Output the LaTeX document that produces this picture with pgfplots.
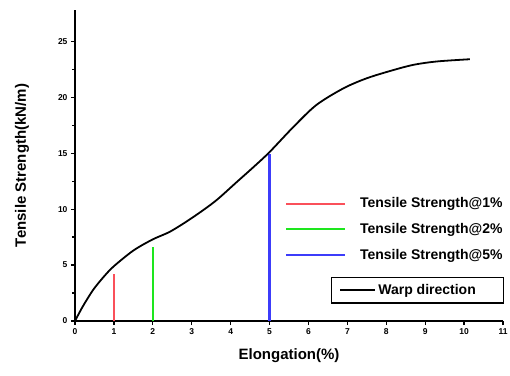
\documentclass[border=0pt]{standalone}
\usepackage{pgfplots}
\pgfplotsset{compat=1.18}
\usepackage{fontspec}
\setmainfont{Liberation Sans}
\definecolor{cred}{RGB}{250,80,90}
\definecolor{cgreen}{RGB}{30,230,30}
\definecolor{cblue}{RGB}{60,60,250}
\begin{document}
\begin{tikzpicture}
\useasboundingbox (-75pt,-54pt) rectangle (435pt,321pt);
\begin{axis}[
  at={(0pt,0pt)}, anchor=south west,
  scale only axis, width=428pt, height=311pt,
  xmin=0, xmax=11, ymin=0, ymax=27.8,
  axis x line=bottom, axis y line=left,
  axis line style={line width=1.6pt, -},
  xtick={0,...,11}, ytick={0,5,...,25}, minor ytick={2.5,7.5,...,22.5},
  tick align=outside, major tick length=4pt, minor tick length=2.5pt,
  tick style={line width=1.2pt, black},
  every tick label/.append style={font=\bfseries\fontsize{8.5}{10}\selectfont},
  /pgf/number format/assume math mode=true,
  xlabel={Elongation(\%)}, ylabel={Tensile Strength(kN/m)},
  label style={font=\bfseries\fontsize{15}{17}\selectfont},
  xlabel style={at={(axis description cs:0.5,-0.11)}, anchor=center},
  ylabel style={at={(axis description cs:-0.124,0.5)}, anchor=center},
  legend style={draw=none, fill=none, at={(0.49,0.295)}, anchor=west,
    font=\bfseries\fontsize{14}{16}\selectfont, row sep=10pt, inner sep=0pt,
    cells={anchor=west}},
  legend image code/.code={\draw[#1] (0pt,0pt) -- (59pt,0pt); \path[draw=none] (0pt,0pt) -- (72pt,0pt);},
]
\addplot[cred, line width=2.2pt] coordinates {(1,0) (1,4.2)};
\addlegendentry{Tensile Strength@1\%}
\addplot[cgreen, line width=2.2pt] coordinates {(2,0) (2,6.6)};
\addlegendentry{Tensile Strength@2\%}
\addplot[cblue, line width=2.2pt] coordinates {(5,0) (5,14.9)};
\addlegendentry{Tensile Strength@5\%}
\end{axis}
\begin{axis}[
  at={(0pt,0pt)}, anchor=south west,
  scale only axis, width=428pt, height=311pt,
  xmin=0, xmax=11, ymin=0, ymax=27.8,
  hide axis,
  legend style={draw=black, line width=1.2pt, fill=white, at={(0.598,0.099)}, anchor=west,
    font=\bfseries\fontsize{14}{16}\selectfont, inner xsep=8pt, inner ysep=5pt},
  legend image code/.code={\draw[#1] (0pt,0pt) -- (35pt,0pt);},
]
\addplot[black, line width=1.8pt, smooth] coordinates {
(0,0) (0.2,1.3) (0.47,2.8) (0.75,4.0) (1,4.9) (1.5,6.3) (2,7.3) (2.45,8.0)
(3,9.2) (3.6,10.7) (4.15,12.4) (4.6,13.8) (5,15.1) (5.6,17.3) (6.2,19.3)
(6.9,20.8) (7.5,21.7) (8.15,22.4) (8.7,22.9) (9.3,23.2) (10.15,23.4)};
\addlegendentry{Warp direction\rule{18pt}{0pt}}
\end{axis}
\end{tikzpicture}
\end{document}
